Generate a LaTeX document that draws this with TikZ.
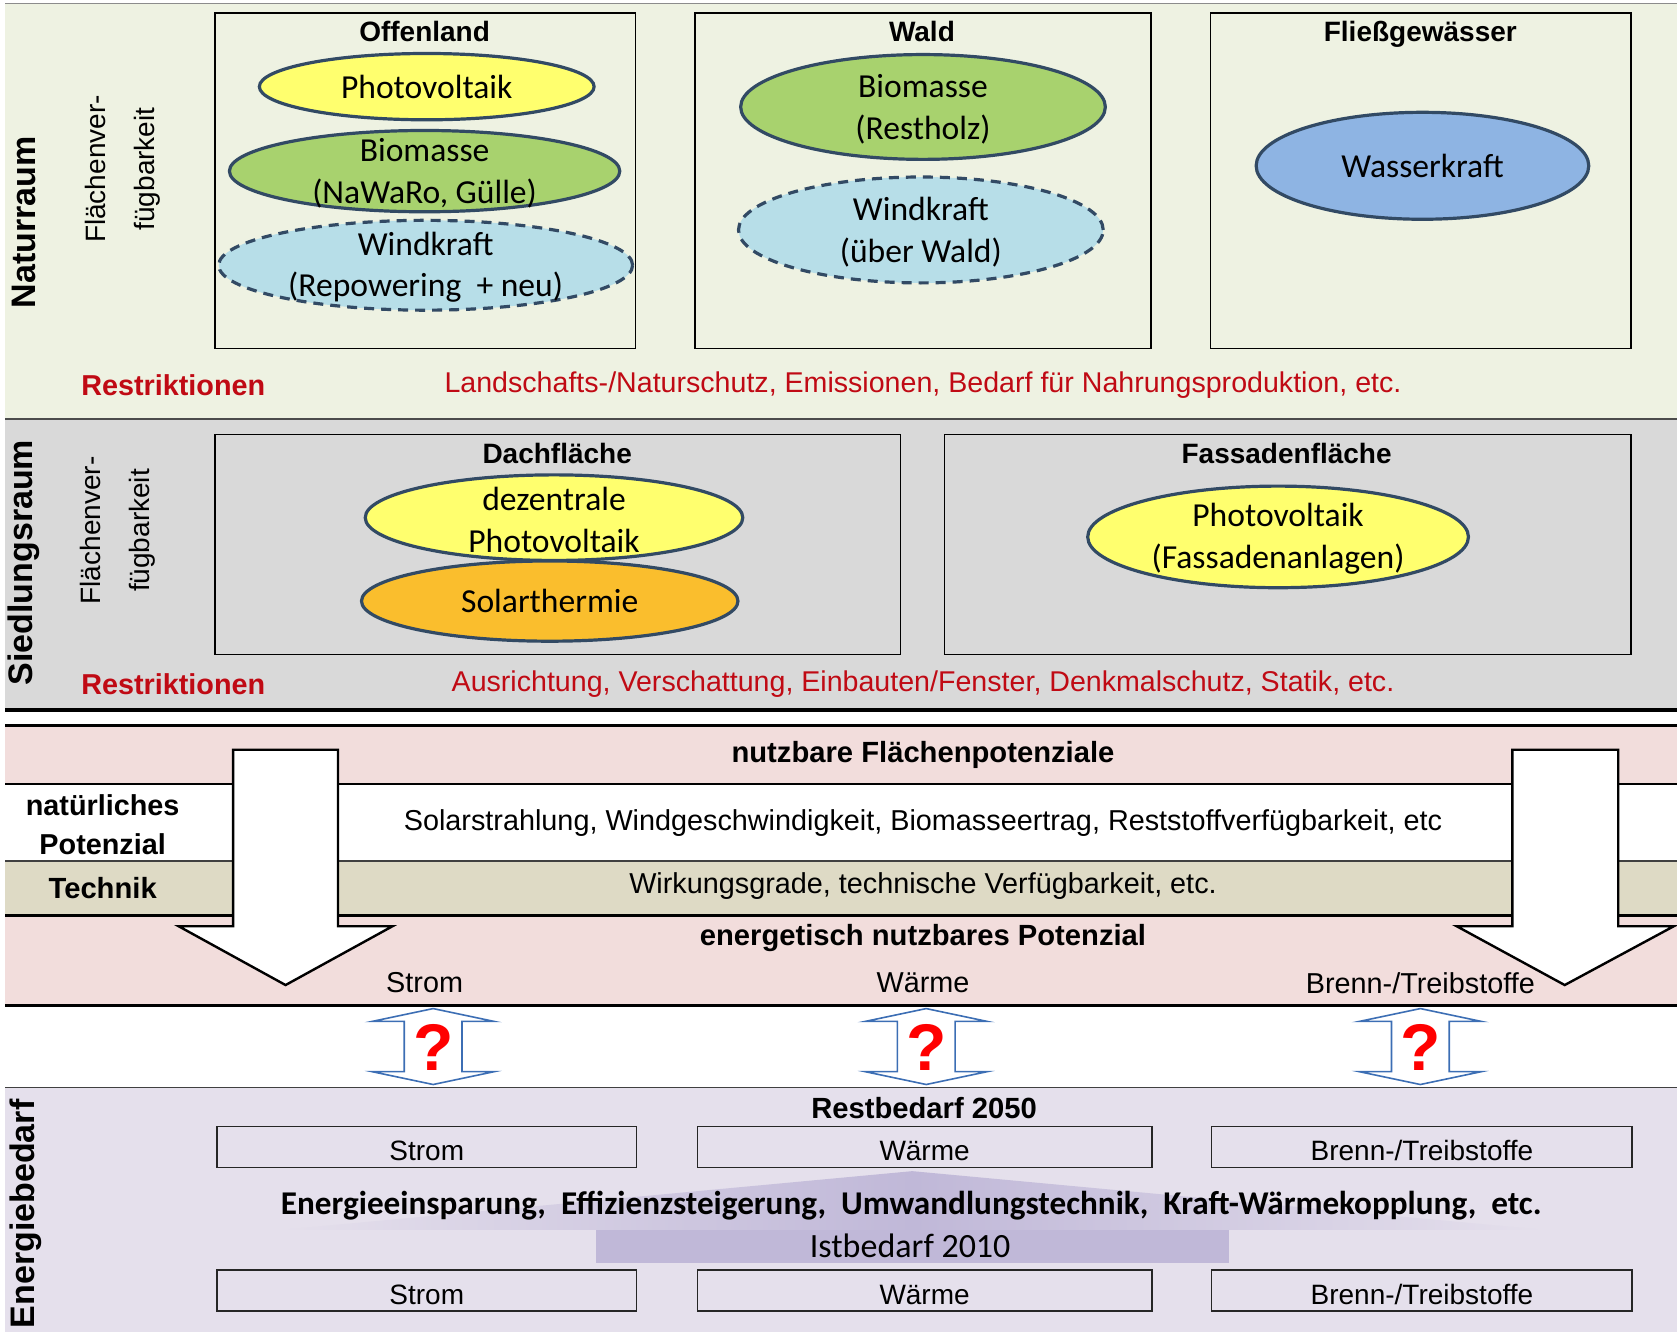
\documentclass[tikz,border=0pt]{standalone}
\usepackage{fontspec}
\setmainfont{Liberation Sans}
\newfontfamily\calfont{Carlito}
\usepackage{tikz}
\usetikzlibrary{shapes.geometric}
\usetikzlibrary{positioning}

\definecolor{naturbg}{RGB}{238,242,226}
\definecolor{siedbg}{RGB}{217,217,217}
\definecolor{pinkbg}{RGB}{242,221,220}
\definecolor{tanbg}{RGB}{222,218,197}
\definecolor{lavbg}{RGB}{229,224,236}
\definecolor{pvyellow}{RGB}{255,255,110}
\definecolor{biogreen}{RGB}{168,210,110}
\definecolor{windblue}{RGB}{183,222,232}
\definecolor{wasserblue}{RGB}{142,180,227}
\definecolor{solarorange}{RGB}{250,190,45}
\definecolor{ellline}{RGB}{50,74,100}
\definecolor{restred}{RGB}{192,10,20}
\definecolor{arrowblue}{RGB}{60,110,180}
\definecolor{bigarrow}{RGB}{192,184,216}

\def\pxu{0.5348pt}
\tikzset{
  ell/.style={ellipse, draw=ellline, line width=1.6pt, inner sep=0pt},
  dims/.style 2 args={minimum width=#1*\pxu, minimum height=#2*\pxu},
  elltext/.style={font=\calfont\fontsize{16.8}{20.9}\selectfont, align=center, inner sep=0pt},
  areatitle/.style={text height=10.5pt, text depth=3pt, font=\bfseries\fontsize{14}{16}\selectfont},
  sidelabel/.style={rotate=90, font=\bfseries\fontsize{17}{20}\selectfont},
  verflabel/.style={rotate=90, align=center, font=\fontsize{14}{24.6}\selectfont},
  restlabel/.style={text=restred, font=\bfseries\fontsize{14.4}{16}\selectfont},
  resttext/.style={text=restred, font=\fontsize{14.3}{16}\selectfont},
  plain/.style={font=\fontsize{14.4}{16}\selectfont},
  plainbold/.style={font=\bfseries\fontsize{14.6}{16}\selectfont},
  ebox/.style={draw=black!85, line width=0.7pt, fill=lavbg, text height=13.8pt, text depth=0pt, font=\fontsize{14}{16}\selectfont},
  downarrow/.style={draw=black, line width=1.2pt, fill=white},
  dblarrow/.style={draw=arrowblue, line width=0.8pt, fill=white}
}

\begin{document}
\begin{tikzpicture}[x=0.5348pt, y=-0.5348pt]
\useasboundingbox (0,0) rectangle (1568,1245);

\fill[naturbg] (5,3) rectangle (1568,392);
\fill[siedbg] (5,392) rectangle (1568,664);
\fill[pinkbg] (5,678) rectangle (1568,733);
\fill[white] (5,733) rectangle (1568,805);
\fill[tanbg] (5,805) rectangle (1568,856);
\fill[pinkbg] (5,856) rectangle (1568,940);
\fill[lavbg] (5,1017) rectangle (1568,1245);

\draw[black!45, line width=0.6pt] (5,3) -- (1568,3);
\draw[black!70, line width=0.8pt] (5,392) -- (1568,392);
\draw[line width=1.8pt] (5,664) -- (1568,664);
\draw[line width=1.5pt] (5,678) -- (1568,678);
\draw[line width=1.1pt] (5,733) -- (1568,733);
\draw[black!75, line width=0.7pt] (5,805) -- (1568,805);
\draw[line width=1.1pt] (5,856) -- (1568,856);
\draw[line width=1.8pt] (5,940) -- (1568,940);
\draw[black!75, line width=0.7pt] (5,1017) -- (1568,1017);

% Naturraum
\node[sidelabel] (natur) at (22,208) {Naturraum};
\node[verflabel] (verfnatur) at (115,158) {Flächenver-\\fügbarkeit};
\draw[line width=0.7pt] (201,12) rectangle (594,326);
\draw[line width=0.7pt] (650,12) rectangle (1076,326);
\draw[line width=0.7pt] (1132,12) rectangle (1525,326);
\node[areatitle] (offen) at (397,32) {Offenland};
\node[areatitle] (wald) at (862,32) {Wald};
\node[areatitle] (fluss) at (1328,32) {Fließgewässer};

\node[ell, fill=pvyellow, dims={313}{62}] (pvoffen) at (399,81) {};
\node[ell, fill=biogreen, dims={365}{76}] (bmoffen) at (397,160) {};
\node[ell, fill=windblue, dims={387}{84}, dash pattern=on 5pt off 3.5pt] (wkoffen) at (398,248) {};
\node[ell, fill=biogreen, dims={341}{98}] (bmwald) at (863,100) {};
\node[ell, fill=windblue, dims={341}{99}, dash pattern=on 5pt off 3.5pt] (wkwald) at (861,215) {};
\node[ell, fill=wasserblue, dims={311}{100}] (wasser) at (1330,155) {};
\node[elltext] (pvoffent) at (pvoffen.center) {Photovoltaik};
\node[elltext] (bmoffent) at ([yshift=-1pt]bmoffen.center) {Biomasse\\(NaWaRo, Gülle)};
\node[elltext] (wkoffent) at ([yshift=-1pt]wkoffen.center) {Windkraft\\(Repowering\ \ + neu)};
\node[elltext] (bmwaldt) at ([yshift=-1pt]bmwald.center) {Biomasse\\(Restholz)};
\node[elltext] (wkwaldt) at ([yshift=-1pt]wkwald.center) {Windkraft\\(über Wald)};
\node[elltext] (wassert) at (wasser.center) {Wasserkraft};

\node[restlabel] (restnatur) at (162,360) {Restriktionen};
\node[resttext] (restnaturt) at (863,360) {Landschafts-/Naturschutz, Emissionen, Bedarf für Nahrungsproduktion, etc.};

% Siedlungsraum
\node[sidelabel] (sied) at (22,526) {Siedlungsraum};
\node[verflabel] (verfsied) at (110,496) {Flächenver-\\fügbarkeit};
\draw[line width=0.7pt] (201,406) rectangle (842,612);
\draw[line width=0.7pt] (883,406) rectangle (1525,612);
\node[areatitle] (dach) at (521,426) {Dachfläche};
\node[areatitle] (fassade) at (1203,426) {Fassadenfläche};

\node[ell, fill=pvyellow, dims={353}{80}] (pvdach) at (518,484) {};
\node[ell, fill=solarorange, dims={352}{75}] (solar) at (514,562) {};
\node[ell, fill=pvyellow, dims={356}{95}] (pvfass) at (1195,502) {};
\node[elltext] (pvdacht) at ([yshift=-1pt]pvdach.center) {dezentrale\\Photovoltaik};
\node[elltext] (solart) at (solar.center) {Solarthermie};
\node[elltext] (pvfasst) at ([yshift=-1pt]pvfass.center) {Photovoltaik\\(Fassadenanlagen)};

\node[restlabel] (restsied) at (162,640) {Restriktionen};
\node[resttext] (restsiedt) at (863,640) {Ausrichtung, Verschattung, Einbauten/Fenster, Denkmalschutz, Statik, etc.};

% Potenziale
\draw[downarrow] (218,701) -- (316,701) -- (316,866) -- (367,866) -- (267,921) -- (167,866) -- (218,866) -- cycle;
\draw[downarrow] (1414,701) -- (1513,701) -- (1513,866) -- (1565,866) -- (1463,921) -- (1362,866) -- (1414,866) -- cycle;

\node[plainbold] (flpot) at (863,706) {nutzbare Flächenpotenziale};
\node[plainbold, align=center, font=\bfseries\fontsize{14.4}{19.8}\selectfont] (natpot) at (96,771) {natürliches\\Potenzial};
\node[plainbold] (technik) at (96,830) {Technik};
\node[plain] (natpott) at (863,770) {Solarstrahlung, Windgeschwindigkeit, Biomasseertrag, Reststoffverfügbarkeit, etc};
\node[plain] (technikt) at (863,828) {Wirkungsgrade, technische Verfügbarkeit, etc.};
\node[plainbold] (enpot) at (863,877) {energetisch nutzbares Potenzial};
\node[plain] (pstrom) at (397,919) {Strom};
\node[plain] (pwaerme) at (863,919) {Wärme};
\node[plain] (pbrenn) at (1328,919) {Brenn-/Treibstoffe};

\foreach \x/\n in {405/qstrom, 866/qwaerme, 1328/qbrenn} {
  \draw[dblarrow] (\x,943) -- (\x+57,955) -- (\x+27,955) -- (\x+27,1002) -- (\x+57,1002) -- (\x,1014)
    -- (\x-57,1002) -- (\x-27,1002) -- (\x-27,955) -- (\x-57,955) -- cycle;
  \node[text=red, font=\bfseries\fontsize{33}{36}\selectfont] (\n) at (\x,979) {?};
}

% Energiebedarf
\node[sidelabel] (energie) at (24,1135) {Energiebedarf};
\node[plainbold] (rest) at (864,1036) {Restbedarf 2050};
\node[ebox, dims={392}{37}] (rstrom) at (399,1072.5) {Strom};
\node[ebox, dims={425}{37}] (rwaerme) at (864.5,1072.5) {Wärme};
\node[ebox, dims={393}{37}] (rbrenn) at (1329.5,1072.5) {Brenn-/Treibstoffe};

\shade[left color=lavbg, right color=lavbg, middle color=bigarrow] (262,1150) -- (853,1095) -- (1445,1150) -- cycle;
\fill[bigarrow] (557,1150) rectangle (1149,1181);

\node[font=\calfont\bfseries\fontsize{16.6}{18}\selectfont] (sparen) at (852,1127) {Energieeinsparung, \ Effizienzsteigerung, \ Umwandlungstechnik, \ Kraft-Wärmekopplung, \ etc.};
\node[font=\calfont\fontsize{17}{18}\selectfont] (ist) at (851,1165) {Istbedarf 2010};
\node[ebox, dims={392}{37}] (istrom) at (399,1206.5) {Strom};
\node[ebox, dims={425}{37}] (iwaerme) at (864.5,1206.5) {Wärme};
\node[ebox, dims={393}{37}] (ibrenn) at (1329.5,1206.5) {Brenn-/Treibstoffe};
\end{tikzpicture}
\end{document}
